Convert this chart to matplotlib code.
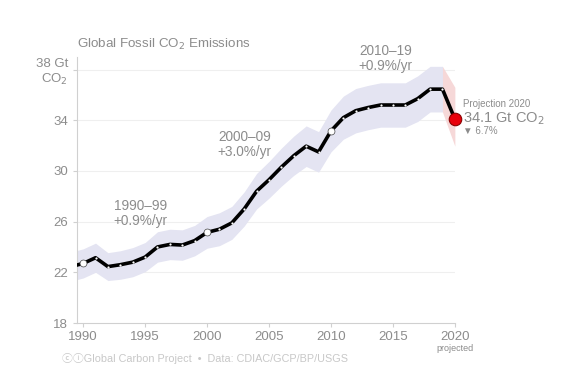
import matplotlib.pyplot as plt

plt.rcParams['font.family'] = ['Liberation Sans', 'DejaVu Sans']

# values (Gt CO2)
years = [1989, 1990, 1991, 1992, 1993, 1994, 1995, 1996, 1997, 1998, 1999,
         2000, 2001, 2002, 2003, 2004, 2005, 2006, 2007, 2008, 2009,
         2010, 2011, 2012, 2013, 2014, 2015, 2016, 2017, 2018, 2019]
emissions = [22.45, 22.7, 23.15, 22.45, 22.6, 22.8, 23.2, 24.0, 24.2, 24.15, 24.5,
             25.15, 25.4, 25.9, 27.0, 28.4, 29.3, 30.3, 31.2, 31.95, 31.5,
             33.15, 34.2, 34.75, 35.0, 35.2, 35.2, 35.2, 35.7, 36.45, 36.45]
upper = [23.6, 23.85, 24.3, 23.55, 23.7, 23.95, 24.35, 25.2, 25.4, 25.35, 25.7,
         26.4, 26.7, 27.2, 28.35, 29.8, 30.75, 31.8, 32.75, 33.55, 33.1,
         34.8, 35.9, 36.5, 36.75, 36.95, 36.95, 36.95, 37.5, 38.25, 38.25]
lower = [21.3, 21.55, 22.0, 21.35, 21.45, 21.65, 22.05, 22.8, 23.0, 22.95, 23.3,
         23.9, 24.1, 24.6, 25.65, 27.0, 27.85, 28.8, 29.65, 30.35, 29.9,
         31.5, 32.5, 33.0, 33.25, 33.45, 33.45, 33.45, 33.9, 34.65, 34.65]
proj_years = [2019, 2020]
proj_values = [36.45, 34.1]
proj_upper = [38.25, 36.6]
proj_lower = [34.65, 31.95]
decade_years = [1990, 2000, 2010]
decade_values = [22.7, 25.15, 33.15]
rates = [(1994.6, 26.65, "1990\u201399\n+0.9%/yr"),
         (2003.05, 32.1, "2000\u201309\n+3.0%/yr"),
         (2014.4, 38.85, "2010\u201319\n+0.9%/yr")]
xticks = [1990, 1995, 2000, 2005, 2010, 2015, 2020]
yticks = [18, 22, 26, 30, 34, 38]
ylabels = ["18", "22", "26", "30", "34", "38 Gt\nCO$_2$"]

grey = "#8c8c8c"
light = "#d0d0d0"

fig = plt.figure(figsize=(5.7, 3.88), dpi=100)
ax = fig.add_axes([0.135, 0.1675, 0.663, 0.686])

ax.fill_between(years, lower, upper, color="#e4e4f2", lw=0)
ax.fill_between(proj_years, proj_lower, proj_upper, color="#f6d8d8", lw=0)
ax.plot(years + [2020], emissions + [34.1], color="black", lw=2.6, zorder=3,
        solid_capstyle="butt")
ax.plot(years, emissions, ls="none", marker="o", ms=1.6, mfc="white",
        mec="none", zorder=4)
ax.plot(decade_years, decade_values, ls="none", marker="o", ms=5, mfc="white",
        mec="#444444", mew=0.5, zorder=5)
ax.plot(proj_years[-1:], proj_values[-1:], ls="none", marker="o", ms=9,
        mfc="#e8000b", mec="#8a0000", mew=0.8, zorder=6, clip_on=False)

ax.set_xlim(1989.5, 2020)
ax.set_ylim(18, 39)
ax.set_xticks(xticks)
ax.set_xticklabels([str(x) for x in xticks])
ax.set_yticks(yticks)
ax.set_yticklabels(ylabels)
for y in yticks[1:]:
    ax.axhline(y, color="#efefef", lw=0.8, zorder=0)

for side in ["top", "right"]:
    ax.spines[side].set_visible(False)
for side in ["left", "bottom"]:
    ax.spines[side].set_color(light)
    ax.spines[side].set_linewidth(0.8)
ax.tick_params(colors=light, labelcolor=grey, labelsize=9.5, length=3, width=0.8)
ax.tick_params(axis="x", pad=3)

for x, y, txt in rates:
    ax.text(x, y, txt, ha="center", va="center", color=grey, fontsize=9.8,
            linespacing=1.1, clip_on=False)

ax.text(2020, 16.35, "projected", ha="center", va="top", color=grey,
        fontsize=6.5, clip_on=False)

fig.text(0.135, 0.885, "Global Fossil CO$_2$ Emissions", color=grey,
         fontsize=9.6, va="center")
fig.text(0.813, 0.733, "Projection 2020", color=grey, fontsize=7, va="center")
fig.text(0.813, 0.695, "34.1 Gt CO$_2$", color=grey, fontsize=10.5, va="center")
fig.text(0.813, 0.663, "\u25bc 6.7%", color=grey, fontsize=7, va="center")
fig.text(0.108, 0.077,
         "\u24d2\u24d8Global Carbon Project  \u2022  Data: CDIAC/GCP/BP/USGS",
         color="#c8c8c8", fontsize=7.8, va="center",
         family=["Liberation Sans", "Noto Sans CJK JP", "DejaVu Sans"])

fig.savefig("out.png", dpi=100, facecolor="white")
